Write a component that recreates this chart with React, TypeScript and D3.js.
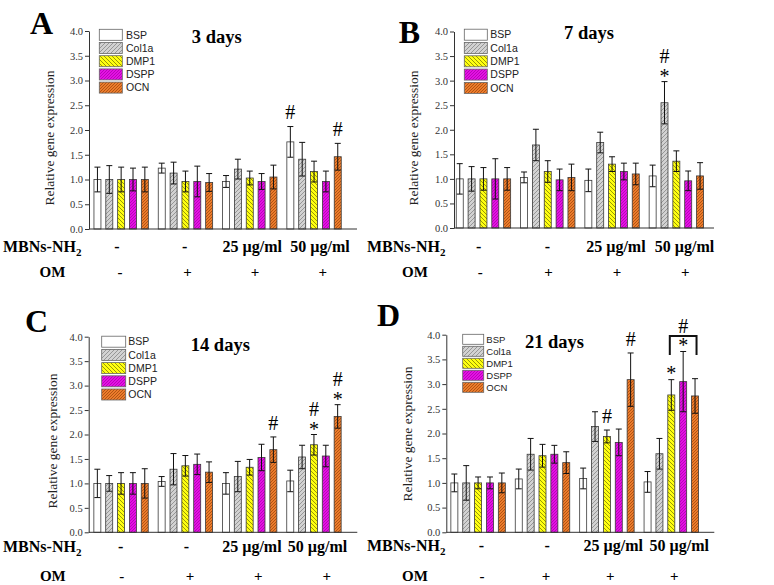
import React, { useEffect, useRef } from "react";
import * as d3 from "d3";

const seriesNames = ["BSP", "Col1a", "DMP1", "DSPP", "OCN"];
const groupKeys = ["g0", "g1", "g2", "g3"];
const mbnsLabels = ["-", "-", "25 µg/ml", "50 µg/ml"];
const omLabels = ["-", "+", "+", "+"];
const yTicks = [0, 0.5, 1, 1.5, 2, 2.5, 3, 3.5, 4];
const titles = ["3 days", "7 days", "14 days", "21 days"];
const letters = ["A", "B", "C", "D"];

// means: series x group
const meansA = [
  [1.0, 1.23, 0.96, 1.76],
  [1.0, 1.13, 1.21, 1.41],
  [1.0, 0.96, 1.03, 1.16],
  [1.0, 0.96, 0.96, 0.96],
  [1.0, 0.94, 1.05, 1.46],
];
const errsA = [
  [0.25, 0.1, 0.12, 0.31],
  [0.28, 0.22, 0.2, 0.34],
  [0.25, 0.21, 0.14, 0.21],
  [0.23, 0.31, 0.16, 0.21],
  [0.25, 0.18, 0.24, 0.27],
];
const meansB = [
  [1.0, 1.03, 0.97, 1.06],
  [1.0, 1.69, 1.74, 2.55],
  [1.0, 1.15, 1.3, 1.36],
  [1.0, 0.98, 1.15, 0.96],
  [1.0, 1.03, 1.1, 1.06],
];
const errsB = [
  [0.31, 0.11, 0.23, 0.22],
  [0.25, 0.32, 0.21, 0.43],
  [0.23, 0.22, 0.15, 0.21],
  [0.41, 0.22, 0.17, 0.2],
  [0.23, 0.27, 0.22, 0.27],
];
const meansC = [
  [1.0, 1.04, 1.0, 1.05],
  [1.0, 1.29, 1.14, 1.54],
  [1.0, 1.36, 1.33, 1.79],
  [1.0, 1.39, 1.53, 1.56],
  [1.0, 1.23, 1.69, 2.37],
];
const errsC = [
  [0.29, 0.1, 0.22, 0.22],
  [0.16, 0.32, 0.31, 0.24],
  [0.22, 0.21, 0.16, 0.21],
  [0.22, 0.21, 0.27, 0.22],
  [0.3, 0.21, 0.26, 0.24],
];
const meansD = [
  [1.0, 1.08, 1.09, 1.02],
  [1.0, 1.58, 2.14, 1.59],
  [1.0, 1.55, 1.94, 2.78],
  [1.0, 1.58, 1.82, 3.05],
  [1.0, 1.41, 3.09, 2.76],
];
const errsD = [
  [0.18, 0.2, 0.21, 0.21],
  [0.35, 0.32, 0.3, 0.31],
  [0.12, 0.23, 0.13, 0.31],
  [0.12, 0.18, 0.27, 0.61],
  [0.2, 0.22, 0.54, 0.35],
];

// significance marks: [group, series, marks]
const annotA: [number, number, string][] = [[3, 0, "#"], [3, 4, "#"]];
const annotB: [number, number, string][] = [[3, 1, "*#"]];
const annotC: [number, number, string][] = [[2, 4, "#"], [3, 2, "*#"], [3, 4, "*#"]];
const annotD: [number, number, string][] = [[2, 2, "#"], [2, 4, "#"], [3, 2, "*"]];
// bracket: [group, fromSeries, toSeries, topSeries]
const bracketD: [number, number, number, number][] = [[3, 2, 4, 3]];

const means = [meansA, meansB, meansC, meansD];
const errs = [errsA, errsB, errsC, errsD];
const annots = [annotA, annotB, annotC, annotD];
const brackets = [[], [], [], bracketD] as [number, number, number, number][][];

const SERIF = "'Liberation Serif', 'Times New Roman', Times, serif";
const SANS = "'Liberation Sans', Arial, Helvetica, sans-serif";

const fills = ["#ffffff", "url(#p-col1a)", "url(#p-dmp1)", "url(#p-dspp)", "url(#p-ocn)"];

type Layout = {
  axisX: number; axisEnd: number; y0: number; y4: number; groupStart: number; step: number;
  legX: number; legY: number; legStep: number; legW: number; legH: number; legFont: number; legTextX: number;
  titleX: number; titleY: number; letterX: number; letterY: number;
  ylabX: number; ylabY: number;
  mbnsX: number; mbnsY: number; omX: number; omY: number; omAnchor: string;
  mbnsRange: [number, number]; omRange: [number, number];
};

const layouts: Layout[] = [
  { axisX: 89, axisEnd: 357, y0: 229, y4: 31, groupStart: 89, step: 64.3,
    legX: 99.3, legY: 29.3, legStep: 13.2, legW: 23, legH: 11, legFont: 10.5, legTextX: 126,
    titleX: 216.7, titleY: 43.3, letterX: 30, letterY: 34, ylabX: 54, ylabY: 138,
    mbnsX: 3, mbnsY: 251.5, omX: 52.5, omY: 277.3, omAnchor: "middle",
    mbnsRange: [117, 320], omRange: [120, 322.7] },
  { axisX: 454, axisEnd: 714, y0: 228, y4: 31.5, groupStart: 451.3, step: 64.3,
    legX: 464.3, legY: 29.2, legStep: 13.3, legW: 23, legH: 11, legFont: 10.5, legTextX: 490.3,
    titleX: 589, titleY: 39.3, letterX: 398.7, letterY: 42.7, ylabX: 418, ylabY: 138,
    mbnsX: 367, mbnsY: 251.5, omX: 415, omY: 277.3, omAnchor: "middle",
    mbnsRange: [478.7, 684.5], omRange: [480.3, 685.3] },
  { axisX: 88.7, axisEnd: 357.3, y0: 532.3, y4: 336.7, groupStart: 88.9, step: 64.3,
    legX: 101.7, legY: 336.2, legStep: 13.2, legW: 24, legH: 11, legFont: 10.5, legTextX: 128.3,
    titleX: 220.3, titleY: 350.7, letterX: 25, letterY: 331.7, ylabX: 57, ylabY: 441,
    mbnsX: 3, mbnsY: 551.5, omX: 52.8, omY: 580.7, omAnchor: "middle",
    mbnsRange: [120.7, 317.5], omRange: [121.7, 326.7] },
  { axisX: 446.3, axisEnd: 714.3, y0: 532.3, y4: 334.7, groupStart: 445.9, step: 64.4,
    legX: 462.7, legY: 334.3, legStep: 12, legW: 21, legH: 10, legFont: 9.5, legTextX: 486.3,
    titleX: 554.5, titleY: 348.3, letterX: 377, letterY: 326, ylabX: 412, ylabY: 434,
    mbnsX: 367, mbnsY: 550.5, omX: 415, omY: 581, omAnchor: "middle",
    mbnsRange: [481.3, 679.2], omRange: [482, 674.3] },
];

function YAxis({ scale, x }: { scale: d3.ScaleLinear<number, number>; x: number }) {
  const ref = useRef<SVGGElement>(null);
  useEffect(() => {
    if (!ref.current) return;
    const g = d3.select(ref.current);
    g.call(
      d3.axisLeft(scale).tickValues(yTicks).tickSize(4).tickSizeOuter(0).tickPadding(2).tickFormat(d3.format(".1f"))
    );
    g.selectAll("text").attr("font-family", SERIF).attr("font-size", 10.5).attr("fill", "#333");
    g.selectAll("line").attr("stroke", "#333");
    g.select(".domain").attr("stroke", "#333");
  }, [scale, x]);
  return <g ref={ref} transform={`translate(${x},0)`} />;
}

function Panel({ idx }: { idx: number }) {
  const L = layouts[idx];
  const M = means[idx];
  const E = errs[idx];
  const y = d3.scaleLinear().domain([0, 4]).range([L.y0, L.y4]);
  const gx = d3.scaleBand<string>().domain(groupKeys).range([L.groupStart, L.groupStart + 4 * L.step]).padding(0);
  const sx = d3.scaleBand<string>().domain(seriesNames).range([0, L.step]).paddingInner(0.41).paddingOuter(0.418);
  const bw = sx.bandwidth();
  const cx = (g: number, s: number) => (gx(groupKeys[g]) as number) + (sx(seriesNames[s]) as number) + bw / 2;
  const mbnsScale = d3.scalePoint<string>().domain(groupKeys).range(L.mbnsRange);
  const omScale = d3.scalePoint<string>().domain(groupKeys).range(L.omRange);
  const errTop = (g: number, s: number) => y(M[s][g] + E[s][g]);

  return (
    <g>
      {/* bars */}
      {seriesNames.map((name, s) =>
        groupKeys.map((gk, g) => (
          <rect key={name + gk} x={cx(g, s) - bw / 2} y={y(M[s][g])} width={bw} height={y(0) - y(M[s][g])}
            fill={fills[s]} stroke="#3a3a3a" strokeWidth={0.8} />
        ))
      )}
      {/* error bars */}
      {seriesNames.map((name, s) =>
        groupKeys.map((gk, g) => {
          const c = cx(g, s);
          const t = y(M[s][g] + E[s][g]);
          const b = y(M[s][g] - E[s][g]);
          return (
            <g key={"e" + name + gk} stroke="#111" strokeWidth={1}>
              <line x1={c} x2={c} y1={t} y2={b} />
              <line x1={c - 3} x2={c + 3} y1={t} y2={t} />
              <line x1={c - 3} x2={c + 3} y1={b} y2={b} />
            </g>
          );
        })
      )}
      {/* x axis line */}
      <line x1={L.axisX} x2={L.axisEnd} y1={L.y0} y2={L.y0} stroke="#333" strokeWidth={1} />
      <YAxis scale={y} x={L.axisX} />
      {/* annotations */}
      {annots[idx].map(([g, s, m], i) => {
        const c = cx(g, s);
        const t = errTop(g, s);
        const items: React.ReactNode[] = [];
        if (m === "#") items.push(<text key="h" x={c} y={t - 14 + 6.8} textAnchor="middle" fontSize={20} fontFamily={SERIF}>#</text>);
        if (m === "*#") {
          items.push(<text key="s" x={c} y={t - 8 + 9.4} textAnchor="middle" fontSize={20} fontFamily={SERIF}>*</text>);
          items.push(<text key="h" x={c} y={t - 25 + 6.8} textAnchor="middle" fontSize={20} fontFamily={SERIF}>#</text>);
        }
        if (m === "*") items.push(<text key="s" x={c} y={t - 9 + 9.4} textAnchor="middle" fontSize={20} fontFamily={SERIF}>*</text>);
        return <g key={"a" + i}>{items}</g>;
      })}
      {brackets[idx].map(([g, s1, s2, st], i) => {
        const xa = cx(g, s1) - 1.5;
        const xb = cx(g, s2) + 1.5;
        const top = errTop(g, st) - 15.5;
        return (
          <g key={"b" + i}>
            <path d={`M${xa},${top + 19}V${top}H${xb}V${top + 19}`} fill="none" stroke="#111" strokeWidth={2} />
            <text x={cx(g, st)} y={top + 7 + 9.4} textAnchor="middle" fontSize={20} fontFamily={SERIF}>*</text>
            <text x={cx(g, st)} y={top - 10 + 6.8} textAnchor="middle" fontSize={20} fontFamily={SERIF}>#</text>
          </g>
        );
      })}
      {/* legend */}
      {seriesNames.map((name, s) => (
        <g key={"l" + name}>
          <rect x={L.legX} y={L.legY + s * L.legStep} width={L.legW} height={L.legH} fill={fills[s]} stroke="#666" strokeWidth={0.8} />
          <text x={L.legTextX} y={L.legY + s * L.legStep + L.legH / 2 + L.legFont * 0.36} fontSize={L.legFont} fontFamily={SANS} fill="#222">{name}</text>
        </g>
      ))}
      {/* title & letter */}
      <text x={L.titleX} y={L.titleY} textAnchor="middle" fontSize={18.5} fontWeight="bold" fontFamily={SERIF}>{titles[idx]}</text>
      <text x={L.letterX} y={L.letterY} fontSize={32} fontWeight="bold" fontFamily={SERIF}>{letters[idx]}</text>
      <text transform={`translate(${L.ylabX},${L.ylabY}) rotate(-90)`} textAnchor="middle" fontSize={13.5} fontFamily={SERIF} fill="#222">Relative gene expression</text>
      {/* condition rows */}
      <text x={L.mbnsX} y={L.mbnsY} fontSize={16} fontWeight="bold" fontFamily={SERIF}>
        MBNs-NH<tspan fontSize={11} dy={4}>2</tspan>
      </text>
      <text x={L.omX} y={L.omY} textAnchor={L.omAnchor as any} fontSize={15} fontWeight="bold" fontFamily={SERIF}>OM</text>
      {mbnsLabels.map((lab, g) => (
        <text key={"m" + g} x={mbnsScale(groupKeys[g])} y={L.mbnsY} textAnchor="middle" fontSize={16} fontWeight="bold" fontFamily={SERIF}>{lab}</text>
      ))}
      {omLabels.map((lab, g) => (
        <text key={"o" + g} x={omScale(groupKeys[g])} y={L.omY} textAnchor="middle" fontSize={15} fontWeight="bold" fontFamily={SERIF}>{lab}</text>
      ))}
    </g>
  );
}

export default function App() {
  return (
    <svg width={774} height={585} viewBox="0 0 774 585" style={{ position: "absolute", left: 0, top: 0, background: "#fff" }}>
      <defs>
        <pattern id="p-col1a" width={4} height={4} patternUnits="userSpaceOnUse">
          <rect width={4} height={4} fill="#d2d2d2" />
          <path d="M-1,1 l2,-2 M0,4 l4,-4 M3,5 l2,-2" stroke="#7c7c7c" strokeWidth={0.7} />
        </pattern>
        <pattern id="p-dmp1" width={4} height={4} patternUnits="userSpaceOnUse">
          <rect width={4} height={4} fill="#ffff10" />
          <path d="M-1,3 l2,2 M0,0 l4,4 M3,-1 l2,2" stroke="#6d6d00" strokeWidth={0.7} />
        </pattern>
        <pattern id="p-dspp" width={3} height={3} patternUnits="userSpaceOnUse">
          <rect width={3} height={3} fill="#e410e4" />
          <path d="M-1,1 l2,-2 M0,3 l3,-3 M2,4 l2,-2" stroke="#9a009a" strokeWidth={0.6} />
        </pattern>
        <pattern id="p-ocn" width={3} height={3} patternUnits="userSpaceOnUse">
          <rect width={3} height={3} fill="#ec7c2c" />
          <path d="M-1,1 l2,-2 M0,3 l3,-3 M2,4 l2,-2" stroke="#9a4408" strokeWidth={0.7} />
        </pattern>
      </defs>
      <rect width={774} height={585} fill="#fff" />
      {[0, 1, 2, 3].map((i) => (
        <Panel key={i} idx={i} />
      ))}
    </svg>
  );
}
